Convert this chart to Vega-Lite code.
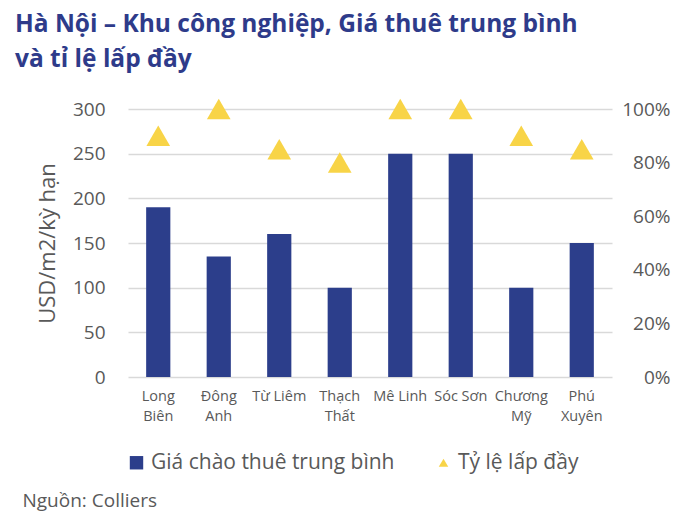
{
  "$schema": "https://vega.github.io/schema/vega-lite/v6.json",
  "width": 484,
  "height": 268,
  "autosize": "none",
  "padding": {"left": 128, "top": 109, "right": 88, "bottom": 153},
  "config": {
    "font": "Open Sans",
    "view": {"stroke": null},
    "axis": {
      "domain": false,
      "ticks": false,
      "gridColor": "#D9D9D9",
      "gridWidth": 1.5,
      "labelColor": "#595959",
      "titleColor": "#595959",
      "titleFontWeight": "normal"
    }
  },
  "title": {
    "text": ["Hà Nội – Khu công nghiệp, Giá thuê trung bình", "và tỉ lệ lấp đầy"],
    "anchor": "start",
    "frame": "group",
    "dx": -113,
    "dy": -22,
    "fontSize": 24.5,
    "fontWeight": "bold",
    "lineHeight": 35,
    "color": "#2E3B8A"
  },
  "data": {
    "values": [
      {"khu": "Long Biên", "gia": 190, "lapday": 0.9},
      {"khu": "Đông Anh", "gia": 135, "lapday": 1.0},
      {"khu": "Từ Liêm", "gia": 160, "lapday": 0.85},
      {"khu": "Thạch Thất", "gia": 100, "lapday": 0.8},
      {"khu": "Mê Linh", "gia": 250, "lapday": 1.0},
      {"khu": "Sóc Sơn", "gia": 250, "lapday": 1.0},
      {"khu": "Chương Mỹ", "gia": 100, "lapday": 0.9},
      {"khu": "Phú Xuyên", "gia": 150, "lapday": 0.85}
    ]
  },
  "encoding": {
    "x": {
      "field": "khu",
      "type": "nominal",
      "sort": null,
      "scale": {"paddingInner": 0.6, "paddingOuter": 0.3},
      "axis": {
        "title": "Nguồn: Colliers",
        "titleFontSize": 19,
        "titleAnchor": "start",
        "titleAlign": "left",
        "titleBaseline": "middle",
        "titleX": -106,
        "titleY": 123,
        "labelAngle": 0,
        "labelFontSize": 14.5,
        "labelLineHeight": 20,
        "labelPadding": 12,
        "labelExpr": "indexof(['Từ Liêm', 'Mê Linh', 'Sóc Sơn'], datum.value) >= 0 ? datum.value : split(datum.value, ' ')"
      }
    }
  },
  "layer": [
    {
      "mark": {"type": "bar"},
      "encoding": {
        "y": {
          "field": "gia",
          "type": "quantitative",
          "scale": {"domain": [0, 300]},
          "axis": {
            "values": [0, 50, 100, 150, 200, 250, 300],
            "title": "USD/m2/kỳ hạn",
            "titleFontSize": 22,
            "titlePadding": 13,
            "labelFontSize": 19,
            "labelPadding": 23
          }
        },
        "color": {
          "datum": "Giá chào thuê trung bình",
          "scale": {
            "domain": ["Giá chào thuê trung bình", "Tỷ lệ lấp đầy"],
            "range": ["#2C3E8B", "#F8D447"]
          },
          "legend": {
            "title": null,
            "orient": "none",
            "direction": "horizontal",
            "legendX": -2,
            "legendY": 343,
            "labelFontSize": 21,
            "labelColor": "#595959",
            "labelLimit": 400,
            "labelOffset": 4,
            "columnPadding": 38,
            "symbolOpacity": 1,
            "encode": {
              "symbols": {
                "update": {
                  "shape": {"signal": "datum.value == 'Tỷ lệ lấp đầy' ? 'triangle-up' : 'square'"},
                  "size": {"signal": "datum.value == 'Tỷ lệ lấp đầy' ? 90 : 180"}
                }
              }
            }
          }
        }
      }
    },
    {
      "mark": {"type": "point", "shape": "triangle-up", "filled": true, "size": 560, "opacity": 1},
      "encoding": {
        "y": {
          "field": "lapday",
          "type": "quantitative",
          "scale": {"domain": [0, 1]},
          "axis": {
            "orient": "right",
            "grid": false,
            "title": null,
            "values": [0, 0.2, 0.4, 0.6, 0.8, 1],
            "format": ".0%",
            "labelAlign": "right",
            "labelFontSize": 19,
            "labelPadding": 58
          }
        },
        "color": {"datum": "Tỷ lệ lấp đầy"}
      }
    }
  ],
  "resolve": {"scale": {"y": "independent"}}
}
